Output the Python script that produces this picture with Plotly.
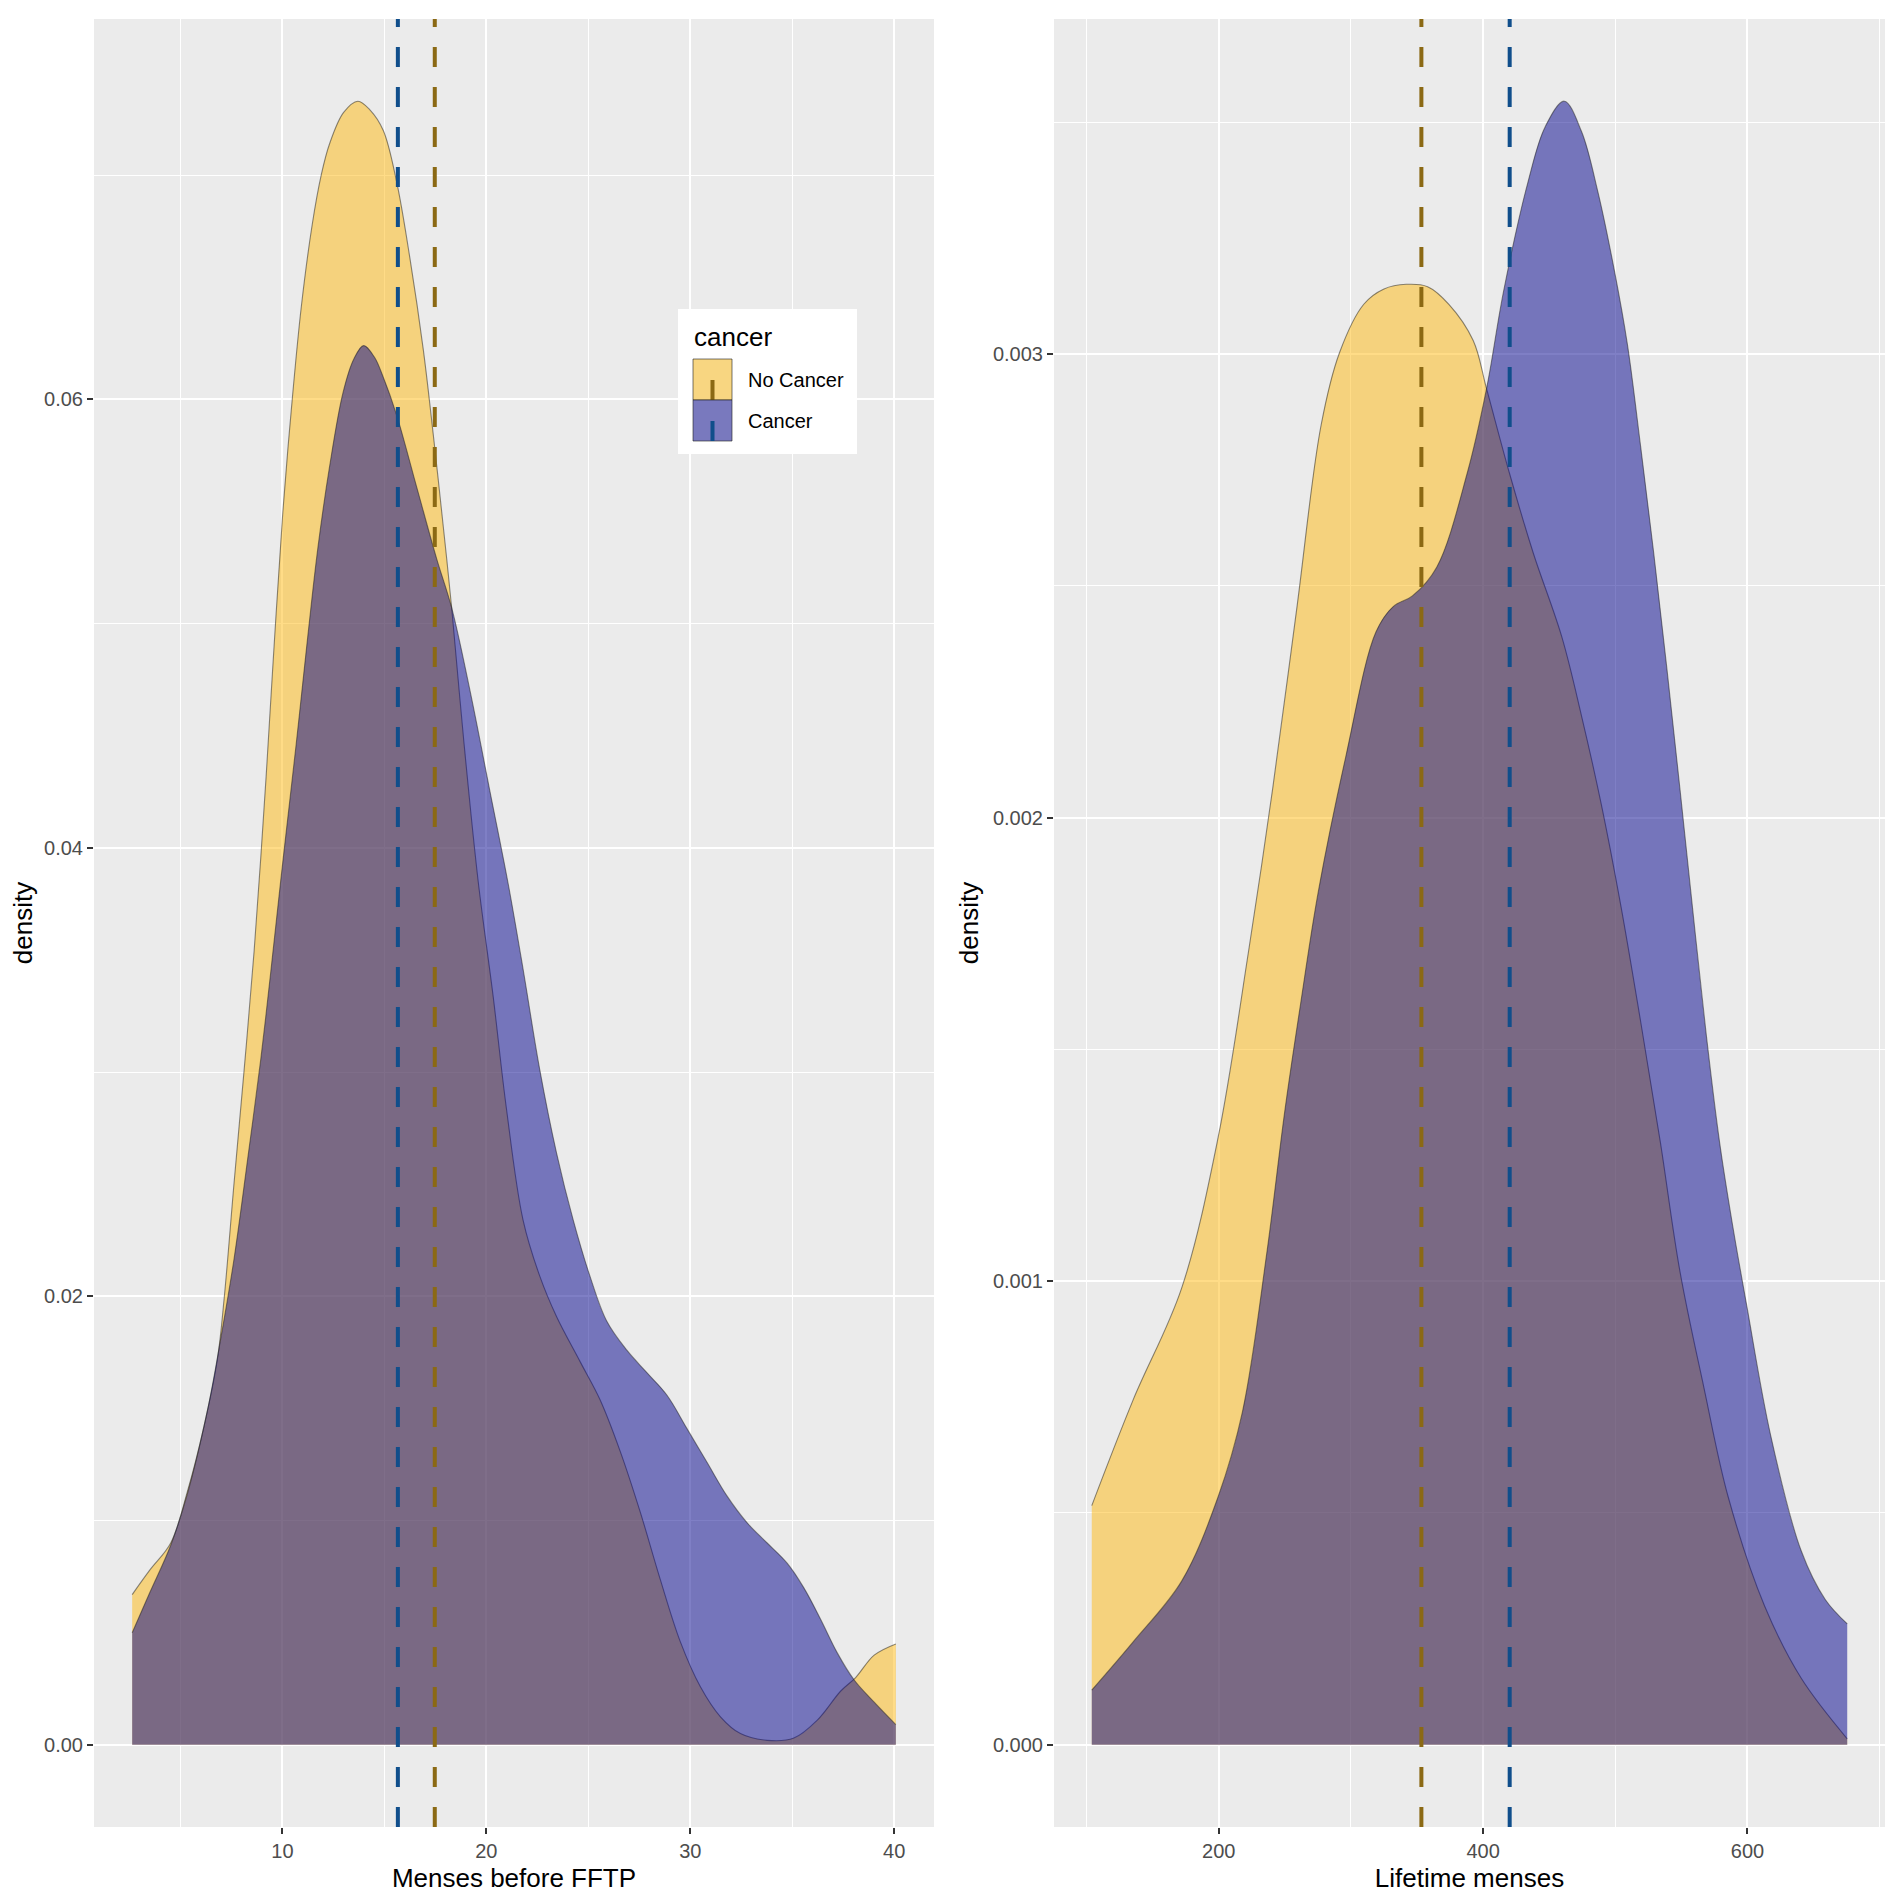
import plotly.graph_objects as go

# 1. Data

groups = ['No Cancer', 'Cancer']
fill_colors = ['rgba(255,185,15,0.5)', 'rgba(0,0,139,0.5)']
mean_colors = ['#8B6914', '#104E8B']

# Menses before FFTP - No Cancer
fftp_nc_x = [2.63, 3.5, 4.52, 5.34, 6.15, 6.81, 7.14, 7.63, 8.12, 8.61, 9.2, 9.61, 10.02,
             10.43, 10.92, 11.46, 11.9, 12.31, 13.0, 13.7, 14.3, 14.94, 15.6, 16.25, 16.91,
             17.4, 17.89, 18.3, 18.9, 19.6, 20.33, 20.98, 21.8, 22.62, 23.44, 24.59, 25.57,
             26.56, 27.54, 28.52, 29.51, 30.49, 31.48, 32.46, 33.77, 35.08, 36.23, 37.38,
             38.11, 39.02, 40.08]
fftp_nc_y = [0.0067, 0.0078, 0.0090, 0.0113, 0.0142, 0.0172, 0.0199, 0.0251, 0.0301, 0.0354,
             0.0432, 0.0493, 0.0550, 0.0595, 0.0641, 0.0678, 0.0700, 0.0714, 0.0728, 0.0733,
             0.0729, 0.0720, 0.0697, 0.0663, 0.0622, 0.0584, 0.0543, 0.0507, 0.0447, 0.0385,
             0.0334, 0.0284, 0.0234, 0.0209, 0.0191, 0.0171, 0.0154, 0.0131, 0.0104, 0.0074,
             0.0046, 0.0026, 0.00125, 0.0005, 0.0002, 0.0003, 0.0011, 0.0024, 0.0030, 0.0040,
             0.0045]

# Menses before FFTP - Cancer
fftp_c_x = [2.63, 3.5, 4.52, 5.34, 6.32, 6.97, 7.63, 8.29, 8.94, 9.43, 10.02, 10.67, 11.25,
            11.74, 12.31, 12.97, 13.5, 13.98, 14.5, 14.94, 15.6, 16.58, 17.56, 18.3, 19.2,
            20.18, 21.07, 21.8, 22.62, 23.44, 24.26, 25.08, 25.9, 26.89, 27.87, 28.85, 29.84,
            30.82, 31.8, 32.79, 33.77, 34.75, 35.57, 36.39, 37.21, 38.03, 39.02, 40.08]
fftp_c_y = [0.0050, 0.0068, 0.0089, 0.0112, 0.0149, 0.0181, 0.0217, 0.0261, 0.0306, 0.0345,
            0.0394, 0.0446, 0.0495, 0.0534, 0.0570, 0.0603, 0.0618, 0.0624, 0.0619, 0.0610,
            0.0593, 0.0561, 0.0529, 0.0507, 0.0470, 0.0425, 0.0384, 0.0346, 0.0301, 0.0264,
            0.0234, 0.0209, 0.0189, 0.0176, 0.0166, 0.0156, 0.0141, 0.0126, 0.0111, 0.0099,
            0.0090, 0.0081, 0.0070, 0.0056, 0.0041, 0.0029, 0.0019, 0.0009]

# Lifetime menses - No Cancer
life_nc_x = [103.9, 135.2, 171.9, 199.5, 222.5, 240.8, 259.2, 277.4, 291.4, 309.7, 325.0,
             341.9, 358.0, 374.1, 392.5, 402.6, 420.0, 438.0, 459.5, 474.4, 489.3, 504.2,
             519.2, 534.1, 549.0, 567.1, 585.4, 612.9, 640.6, 675.5]
life_nc_y = [0.000516, 0.000744, 0.000985, 0.001310, 0.001711, 0.002063, 0.002455, 0.002846,
             0.003003, 0.003107, 0.003140, 0.003150, 0.003145, 0.003107, 0.003029, 0.002925,
             0.002742, 0.002570, 0.002390, 0.002220, 0.002030, 0.001810, 0.001560, 0.001300,
             0.001020, 0.000770, 0.000535, 0.000300, 0.000144, 0.000013]

# Lifetime menses - Cancer
life_c_x = [103.9, 135.2, 171.9, 199.5, 217.9, 236.3, 250.1, 262.0, 275.3, 296.0, 318.9,
            332.0, 346.5, 364.9, 387.9, 402.6, 415.4, 433.8, 447.0, 461.4, 474.4, 486.8,
            499.3, 509.2, 519.2, 529.1, 539.1, 549.0, 559.0, 568.9, 578.9, 588.8, 599.3,
            617.6, 640.6, 659.0, 675.5]
life_c_y = [0.000118, 0.000222, 0.000353, 0.000535, 0.000718, 0.001060, 0.001370, 0.001600,
            0.001840, 0.002130, 0.002400, 0.002455, 0.002478, 0.002540, 0.002742, 0.002925,
            0.003134, 0.003369, 0.003490, 0.003545, 0.003480, 0.003350, 0.003180, 0.003020,
            0.002800, 0.002570, 0.002320, 0.002060, 0.001790, 0.001530, 0.001300, 0.001120,
            0.000950, 0.000667, 0.000419, 0.000313, 0.000261]

# group means (dashed lines)
fftp_means = [17.47, 15.66]
life_means = [353.3, 420.1]


# 2. Helpers (page body has an 8px margin, so positions are shifted by it)

W, H = 1902, 1899
OFF = 8
FW, FH = W - OFF, H - OFF


def px_x(p):
    return (p - OFF) / FW


def px_y(p):
    return 1 - (p - OFF) / FH


def expand(lo, hi, f=0.05):
    d = (hi - lo) * f
    return [lo - d, hi + d]


# 3. Build figure

fig = go.Figure()

panels = [
    ('x', 'y', [fftp_nc_x, fftp_c_x], [fftp_nc_y, fftp_c_y]),
    ('x2', 'y2', [life_nc_x, life_c_x], [life_nc_y, life_c_y]),
]

for xa, ya, xs, ys in panels:
    for i, g in enumerate(groups):
        fig.add_trace(go.Scatter(
            x=xs[i], y=ys[i], name=g, xaxis=xa, yaxis=ya,
            mode='lines', fill='tozeroy', fillcolor=fill_colors[i],
            line=dict(color='rgba(30,30,30,0.5)', width=1.1, shape='spline', smoothing=1.0),
            showlegend=False, hoverinfo='skip'))

shapes = []
for xa, means in [('x', fftp_means), ('x2', life_means)]:
    ydom = 'y domain' if xa == 'x' else 'y2 domain'
    for i, m in enumerate(means):
        shapes.append(dict(type='line', xref=xa, yref=ydom, x0=m, x1=m, y0=0, y1=1,
                           line=dict(color=mean_colors[i], width=4, dash='20px,20px')))

# legend drawn by hand (ggplot style key with fill + dashed line glyph)
shapes.append(dict(type='rect', xref='paper', yref='paper', x0=px_x(678), x1=px_x(857),
                   y0=px_y(454), y1=px_y(309), fillcolor='white', line=dict(width=0)))
key_tops = [359, 400]
key_fill = ['rgb(248,214,129)', 'rgb(121,121,190)']
for i, g in enumerate(groups):
    t = key_tops[i]
    shapes.append(dict(type='rect', xref='paper', yref='paper', x0=px_x(693), x1=px_x(732),
                       y0=px_y(t + 41), y1=px_y(t), fillcolor=key_fill[i],
                       line=dict(color='rgba(30,30,30,0.6)', width=1)))
    shapes.append(dict(type='line', xref='paper', yref='paper', x0=px_x(712.5), x1=px_x(712.5),
                       y0=px_y(t + 41), y1=px_y(t + 21),
                       line=dict(color=mean_colors[i], width=4)))

annotations = [dict(text='cancer', xref='paper', yref='paper', x=px_x(692), y=px_y(337),
                    xanchor='left', yanchor='middle', showarrow=False,
                    font=dict(size=26, color='black'))]
for i, g in enumerate(groups):
    annotations.append(dict(text=g, xref='paper', yref='paper', x=px_x(746),
                            y=px_y(key_tops[i] + 21), xanchor='left', yanchor='middle',
                            showarrow=False, font=dict(size=20, color='black')))

xr1 = expand(min(fftp_nc_x + fftp_c_x), max(fftp_nc_x + fftp_c_x))
yr1 = expand(0, max(fftp_nc_y + fftp_c_y))
xr2 = expand(min(life_nc_x + life_c_x), max(life_nc_x + life_c_x))
yr2 = expand(0, max(life_nc_y + life_c_y))

axis_common = dict(showline=False, zeroline=False, gridcolor='white', gridwidth=2.4,
                   ticks='outside', ticklen=6, tickwidth=2, tickcolor='#333333',
                   tickfont=dict(size=20, color='#4D4D4D'), automargin=False)

ydom = [px_y(1827), px_y(19)]

fig.update_layout(
    width=FW, height=FH,
    margin=dict(l=0, r=0, t=0, b=0),
    paper_bgcolor='white', plot_bgcolor='#EBEBEB',
    font=dict(family='Liberation Sans, Arial, sans-serif', color='black'),
    xaxis=dict(domain=[px_x(94), px_x(934)], range=xr1, dtick=10, tick0=0,
               minor=dict(dtick=5, tick0=0, showgrid=True, gridcolor='white', gridwidth=1.2),
               title=dict(text='Menses before FFTP', font=dict(size=26), standoff=7),
               **axis_common),
    yaxis=dict(domain=ydom, range=yr1, dtick=0.02, tick0=0, tickformat='.2f',
               minor=dict(dtick=0.01, tick0=0, showgrid=True, gridcolor='white', gridwidth=1.2),
               title=dict(text='density', font=dict(size=26), standoff=6),
               **axis_common),
    xaxis2=dict(domain=[px_x(1054), px_x(1885)], range=xr2, dtick=200, tick0=0,
                minor=dict(dtick=100, tick0=0, showgrid=True, gridcolor='white', gridwidth=1.2),
                title=dict(text='Lifetime menses', font=dict(size=26), standoff=7),
                anchor='y2', **axis_common),
    yaxis2=dict(domain=ydom, range=yr2, dtick=0.001, tick0=0, tickformat='.3f',
                minor=dict(dtick=0.0005, tick0=0, showgrid=True, gridcolor='white', gridwidth=1.2),
                title=dict(text='density', font=dict(size=26), standoff=6),
                anchor='x2', **axis_common),
    shapes=shapes,
    annotations=annotations,
)

fig.write_html("out.html")
